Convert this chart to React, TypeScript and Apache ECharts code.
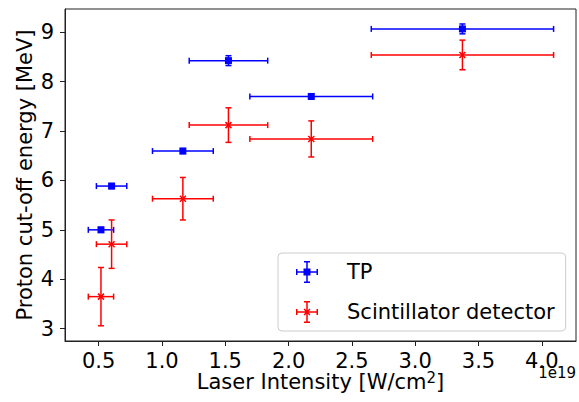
import React, { useEffect, useRef } from "react";
import * as echarts from "echarts";

const intensity = [0.518, 0.602, 1.165, 1.525, 2.179, 3.373];
const intensityErr = [0.1, 0.12, 0.24, 0.31, 0.485, 0.72];
const tpEnergy = [5.0, 5.886, 6.595, 8.425, 7.7, 9.067];
const tpErr = [0.05, 0.05, 0.05, 0.1, 0.05, 0.1];
const scintEnergy = [3.648, 4.71, 5.63, 7.12, 6.84, 8.54];
const scintErr = [0.59, 0.49, 0.43, 0.35, 0.365, 0.3];
const xTicks = [0.5, 1.0, 1.5, 2.0, 2.5, 3.0, 3.5, 4.0];
const yTicks = [3, 4, 5, 6, 7, 8, 9];

const FONT = "DejaVu Sans";

const TP_ICON =
  "path://M0,10.25h22v1.5h-22z M10.25,0h1.5v22h-1.5z M0,8h1.5v6h-1.5z M20.5,8h1.5v6h-1.5z M8,0h6v1.5h-6z M8,20.5h6v1.5h-6z M7.5,7.5h7v7h-7z";
const SC_ICON =
  "path://M0,10.25h22v1.5h-22z M10.25,0h1.5v22h-1.5z M0,8h1.5v6h-1.5z M20.5,8h1.5v6h-1.5z M8,0h6v1.5h-6z M8,20.5h6v1.5h-6z M7.6,8.6L8.6,7.6L14.4,13.4L13.4,14.4z M13.4,7.6L14.4,8.6L8.6,14.4L7.6,13.4z";

function makeRender(color: string, marker: "square" | "x") {
  return (params: any, api: any) => {
    const x = api.value(0);
    const y = api.value(1);
    const xe = api.value(2);
    const ye = api.value(3);
    const c = api.coord([x, y]);
    const l = api.coord([x - xe, y]);
    const r = api.coord([x + xe, y]);
    const t = api.coord([x, y + ye]);
    const b = api.coord([x, y - ye]);
    const cap = 3;
    const ls = { stroke: color, lineWidth: 1.5, fill: null };
    const children: any[] = [
      { type: "line", shape: { x1: l[0], y1: l[1], x2: r[0], y2: r[1] }, style: ls },
      { type: "line", shape: { x1: l[0], y1: l[1] - cap, x2: l[0], y2: l[1] + cap }, style: ls },
      { type: "line", shape: { x1: r[0], y1: r[1] - cap, x2: r[0], y2: r[1] + cap }, style: ls },
      { type: "line", shape: { x1: t[0], y1: t[1], x2: b[0], y2: b[1] }, style: ls },
      { type: "line", shape: { x1: t[0] - cap, y1: t[1], x2: t[0] + cap, y2: t[1] }, style: ls },
      { type: "line", shape: { x1: b[0] - cap, y1: b[1], x2: b[0] + cap, y2: b[1] }, style: ls },
    ];
    if (marker === "square") {
      children.push({
        type: "rect",
        shape: { x: c[0] - 3.5, y: c[1] - 3.5, width: 7, height: 7 },
        style: { fill: color, stroke: null },
      });
    } else {
      const s = 3;
      children.push(
        { type: "line", shape: { x1: c[0] - s, y1: c[1] - s, x2: c[0] + s, y2: c[1] + s }, style: { stroke: color, lineWidth: 1.5 } },
        { type: "line", shape: { x1: c[0] - s, y1: c[1] + s, x2: c[0] + s, y2: c[1] - s }, style: { stroke: color, lineWidth: 1.5 } }
      );
    }
    return { type: "group", children };
  };
}

export default function App() {
  const ref = useRef<HTMLDivElement>(null);
  useEffect(() => {
    if (!ref.current) return;
    const chart = echarts.init(ref.current, null, { renderer: "svg" });
    const tpData = intensity.map((x, i) => [x, tpEnergy[i], intensityErr[i], tpErr[i]]);
    const scData = intensity.map((x, i) => [x, scintEnergy[i], intensityErr[i], scintErr[i]]);
    chart.setOption({
      animation: false,
      backgroundColor: "#ffffff",
      textStyle: { fontFamily: FONT },
      grid: {
        left: 65,
        right: 3,
        top: 9,
        bottom: 61,
        show: true,
        borderColor: "#222",
        borderWidth: 1,
        outerBoundsMode: "none",
      },
      xAxis: {
        type: "value",
        min: 0.234,
        max: 4.27,
        splitLine: { show: false },
        axisLine: { show: true, onZero: false, lineStyle: { color: "#222", width: 1 } },
        axisTick: { show: true, length: 5, customValues: xTicks, lineStyle: { color: "#222" } },
        axisLabel: {
          customValues: xTicks,
          formatter: (v: number) => v.toFixed(1),
          fontSize: 21,
          lineHeight: 21,
          fontFamily: FONT,
          color: "#000",
          margin: 9,
        },
        name: "{n|Laser Intensity [W/cm}{sup|2}{n|]}",
        nameLocation: "middle",
        nameGap: 29,
        nameMoveOverlap: false,
        nameTextStyle: {
          fontSize: 21,
          fontFamily: FONT,
          color: "#000",
          rich: {
            n: { fontSize: 21, fontFamily: FONT, color: "#000", lineHeight: 24 },
            sup: { fontSize: 15, fontFamily: FONT, color: "#000", verticalAlign: "top", lineHeight: 12 },
          },
        },
      },
      yAxis: {
        type: "value",
        min: 2.75,
        max: 9.47,
        splitLine: { show: false },
        axisLine: { show: true, onZero: false, lineStyle: { color: "#222", width: 1 } },
        axisTick: { show: true, length: 5, customValues: yTicks, lineStyle: { color: "#222" } },
        axisLabel: {
          customValues: yTicks,
          fontSize: 21,
          fontFamily: FONT,
          color: "#000",
          margin: 11,
        },
        name: "Proton cut-off energy [MeV]",
        nameLocation: "middle",
        nameGap: 30,
        nameMoveOverlap: false,
        nameTextStyle: { fontSize: 21, lineHeight: 21, fontFamily: FONT, color: "#000" },
      },
      legend: {
        orient: "vertical",
        left: 278,
        top: 253,
        padding: [8, 11, 8, 18],
        itemGap: 18,
        itemWidth: 22,
        itemHeight: 22,
        backgroundColor: "rgba(255,255,255,0.8)",
        borderColor: "#cccccc",
        borderWidth: 1,
        borderRadius: 4,
        itemStyle: { borderWidth: 0 },
        textStyle: { fontSize: 21, fontFamily: FONT, color: "#000", padding: [0, 0, 0, 24] },
        data: [
          { name: "TP", icon: TP_ICON },
          { name: "Scintillator detector", icon: SC_ICON },
        ],
      },
      graphic: [
        {
          type: "text",
          right: 3,
          top: 365,
          style: { text: "1e19", font: `15px "${FONT}"`, lineHeight: 14, fill: "#000" },
        },
      ],
      series: [
        {
          name: "TP",
          type: "custom",
          color: "#0000ff",
          itemStyle: { color: "#0000ff" },
          renderItem: makeRender("#0000ff", "square"),
          encode: { x: 0, y: 1 },
          data: tpData,
        },
        {
          name: "Scintillator detector",
          type: "custom",
          color: "#ff0000",
          itemStyle: { color: "#ff0000" },
          renderItem: makeRender("#ff0000", "x"),
          encode: { x: 0, y: 1 },
          data: scData,
        },
      ],
    });
    return () => chart.dispose();
  }, []);
  return (
    <div
      ref={ref}
      style={{ position: "fixed", left: 0, top: 0, width: 579, height: 402, background: "#fff" }}
    />
  );
}
